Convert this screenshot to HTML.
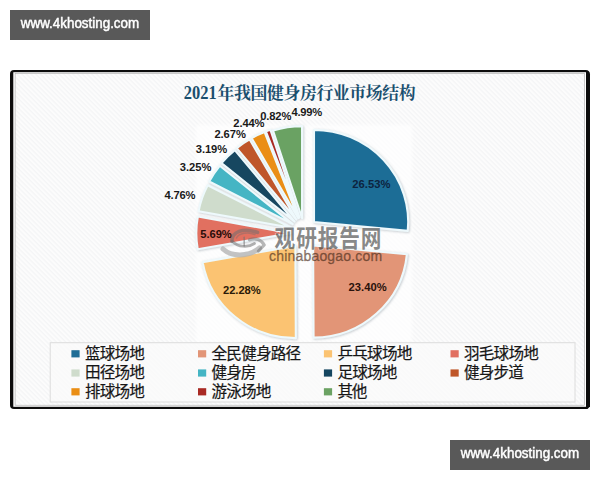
<!DOCTYPE html>
<html lang="zh"><head><meta charset="utf-8"><title>2021年我国健身房行业市场结构</title>
<style>
html,body{margin:0;padding:0;background:#fff}
body{width:600px;height:480px;position:relative;overflow:hidden;font-family:"Liberation Sans",sans-serif}
.tag{position:absolute;width:140px;height:30px;background:#595959;color:#fff;font-size:13.4px;line-height:28.4px;text-align:center;-webkit-text-stroke:0.45px #fff;white-space:nowrap}
.tag span{display:inline-block;transform:scaleY(1.06);transform-origin:50% 68%}
svg{position:absolute;left:0;top:0;font-family:"Liberation Sans",sans-serif}
</style></head><body>
<div class="tag" style="left:10px;top:10px"><span>www.4khosting.com</span></div>
<svg width="600" height="480" viewBox="0 0 600 480" role="img" aria-label="2021年我国健身房行业市场结构">
<defs>
<pattern id="hatch" width="3.3" height="3.3" patternUnits="userSpaceOnUse" patternTransform="rotate(45)"><rect width="3.3" height="3.3" fill="#fcfcfc"/><rect width="3.3" height="1.3" fill="#f4f5f6"/></pattern>
<filter id="soft" x="-5%" y="-5%" width="110%" height="110%"><feGaussianBlur stdDeviation="1.6"/></filter>
<filter id="sh" x="-10%" y="-10%" width="120%" height="120%"><feDropShadow dx="0.8" dy="0.8" stdDeviation="1.2" flood-color="#7a8a94" flood-opacity="0.45"/></filter>
</defs>
<path d="M14 70H585.5Q590 70 590 74.5V406.5L587.5 409H14Q10 409 10 405V74Q10 70 14 70Z" fill="#0c0c0c"/>
<rect x="13.3" y="72.2" width="572.7" height="334.6" fill="#fff"/>
<rect x="15.1" y="73.3" width="569.6" height="331.9" fill="url(#hatch)" stroke="#a9a9a9" stroke-width="0.6"/>
<rect x="196" y="125" width="216" height="217" fill="#fff" opacity="0.75" filter="url(#soft)"/>
<text transform="translate(183.7 99.0) scale(0.895 1)" font-family="'Liberation Serif',serif" font-weight="bold" font-size="18.4" fill="#1a4f6e">2021</text>
<text x="217.6" y="98.9" font-family="'Liberation Serif','Noto Serif CJK SC',serif" font-weight="bold" font-size="16.9" fill="#1a4f6e" textLength="198" lengthAdjust="spacing">年我国健身房行业市场结构</text>
<g stroke="#eef9fc" stroke-width="2.1" stroke-linejoin="round" filter="url(#sh)"><path d="M313.99 222.04L313.99 129.84A94.2 92.2 0 0 1 407.76 230.86Z" fill="#1f6d96"/><path d="M313.1 245.46L406.87 254.28A94.2 92.2 0 0 1 313.58 337.66Z" fill="#e29577"/><path d="M295.36 245.95L295.83 338.15A94.2 92.2 0 0 1 202.62 262.11Z" fill="#fbc372"/><path d="M290.5 233.16L197.76 249.32A94.2 92.2 0 0 1 197.84 216.54Z" fill="#e16f61"/><path d="M291.23 227.81L198.57 211.19A94.2 92.2 0 0 1 207.69 185.21Z" fill="#cfdccc"/><path d="M292.73 224.07L209.18 181.47A94.2 92.2 0 0 1 219.74 165.78Z" fill="#45b5c4"/><path d="M294.45 221.47L221.46 163.18A94.2 92.2 0 0 1 234.78 150.13Z" fill="#154660"/><path d="M296.35 219.52L236.68 148.18A94.2 92.2 0 0 1 249.69 139.43Z" fill="#bf5629"/><path d="M298.23 218.19L251.57 138.1A94.2 92.2 0 0 1 264.61 132.07Z" fill="#ea8e14"/><path d="M299.51 217.55L265.88 131.42A94.2 92.2 0 0 1 270.46 129.84Z" fill="#a92a24"/><path d="M302.08 218.28L273.03 130.57A94.2 92.2 0 0 1 302.08 126.08Z" fill="#6ba263"/></g>
<g>
<g fill="none" stroke="#6f6f6f" stroke-linecap="round" stroke-linejoin="round"><path d="M223 249C231 256.5 248 257.5 259.5 248" stroke="#b4b4b4" stroke-width="5" opacity="0.8"/><path d="M231.8 241.5C231.5 232 243 227.2 257.5 232.4" stroke-width="3.6" opacity="0.55"/><path d="M236.5 238C239 233 248 231.5 255 234.5" stroke-width="1.4" opacity="0.4"/><path d="M232.2 241.2C238 247.3 248 247.8 254.5 243.5" stroke-width="2.7" opacity="0.55"/><path d="M244.2 237.2V246" stroke-width="1.6" opacity="0.55"/><path d="M249.5 239.8C255 237.5 261.5 239.5 264.2 245L258.5 251" stroke-width="3.2" opacity="0.5"/></g>
<text transform="translate(274.6 246.7) scale(1 1.169)" font-family="'Liberation Sans','Noto Sans CJK SC',sans-serif" font-weight="bold" font-size="20.7" fill="#2e2e2e" fill-opacity="0.58" stroke="#fff" stroke-width="0.9" stroke-opacity="0.55" paint-order="stroke" textLength="106.9" lengthAdjust="spacing">观研报告网</text>
<text x="269.0" y="260.6" font-size="14" fill="#4a2c18" fill-opacity="0.6" stroke="#4a2c18" stroke-opacity="0.45" stroke-width="0.5" textLength="113.2" lengthAdjust="spacing">chinabaogao.com</text>
</g>
<text x="352.3" y="187.5" font-weight="bold" font-size="11.2" fill="#0d2440" textLength="38.25" lengthAdjust="spacing">26.53%</text>
<text x="348.55" y="291.2" font-weight="bold" font-size="11.2" fill="#2a120c" textLength="38.199999999999996" lengthAdjust="spacing">23.40%</text>
<text x="223.1" y="294.4" font-weight="bold" font-size="11.2" fill="#2a1a08" textLength="37.5" lengthAdjust="spacing">22.28%</text>
<text x="200.35" y="238.0" font-weight="bold" font-size="11.2" fill="#2a0d0a" textLength="31.4" lengthAdjust="spacing">5.69%</text>
<text x="164.45" y="199.0" font-weight="bold" font-size="11.2" fill="#1a1a1a" textLength="31.099999999999998" lengthAdjust="spacing">4.76%</text>
<text x="179.75" y="171.3" font-weight="bold" font-size="11.2" fill="#1a1a1a" textLength="31.7" lengthAdjust="spacing">3.25%</text>
<text x="195.85" y="152.8" font-weight="bold" font-size="11.2" fill="#1a1a1a" textLength="31.349999999999998" lengthAdjust="spacing">3.19%</text>
<text x="214.38" y="138.3" font-weight="bold" font-size="11.2" fill="#1a1a1a" textLength="31.5" lengthAdjust="spacing">2.67%</text>
<text x="233.3" y="127.3" font-weight="bold" font-size="11.2" fill="#1a1a1a" textLength="31.25" lengthAdjust="spacing">2.44%</text>
<text x="260.15" y="120.3" font-weight="bold" font-size="11.2" fill="#1a1a1a" textLength="31.2" lengthAdjust="spacing">0.82%</text>
<text x="291.55" y="115.5" font-weight="bold" font-size="11.2" fill="#1a1a1a" textLength="30.7" lengthAdjust="spacing">4.99%</text>
<rect x="50.2" y="342.7" width="524.8" height="59.3" fill="#fafafa" fill-opacity="0.8" stroke="#dcdcdc" stroke-width="1"/>
<g font-family="'Liberation Sans','Noto Sans CJK SC',sans-serif" font-size="15.6" fill="#161616" stroke="#161616" stroke-width="0.2">
<rect x="71.4" y="350.2" width="8.2" height="7.2" fill="#1f6d96" stroke="none"/>
<text x="85" y="358.7" textLength="59.8" lengthAdjust="spacing">篮球场地</text>
<rect x="198.0" y="350.2" width="8.2" height="7.2" fill="#e29577" stroke="none"/>
<text x="211.5" y="358.7" textLength="89.7" lengthAdjust="spacing">全民健身路径</text>
<rect x="323.9" y="350.2" width="8.2" height="7.2" fill="#fbc372" stroke="none"/>
<text x="337.5" y="358.7" textLength="74.8" lengthAdjust="spacing">乒乓球场地</text>
<rect x="450.5" y="350.2" width="8.2" height="7.2" fill="#e16f61" stroke="none"/>
<text x="464" y="358.7" textLength="74.8" lengthAdjust="spacing">羽毛球场地</text>
<rect x="71.4" y="369.4" width="8.2" height="7.2" fill="#cfdccc" stroke="none"/>
<text x="85" y="377.9" textLength="59.8" lengthAdjust="spacing">田径场地</text>
<rect x="198.0" y="369.4" width="8.2" height="7.2" fill="#45b5c4" stroke="none"/>
<text x="211.5" y="377.9" textLength="44.9" lengthAdjust="spacing">健身房</text>
<rect x="323.9" y="369.4" width="8.2" height="7.2" fill="#154660" stroke="none"/>
<text x="337.5" y="377.9" textLength="59.8" lengthAdjust="spacing">足球场地</text>
<rect x="450.5" y="369.4" width="8.2" height="7.2" fill="#bf5629" stroke="none"/>
<text x="464" y="377.9" textLength="59.8" lengthAdjust="spacing">健身步道</text>
<rect x="71.4" y="388.2" width="8.2" height="7.2" fill="#ea8e14" stroke="none"/>
<text x="85" y="396.7" textLength="59.8" lengthAdjust="spacing">排球场地</text>
<rect x="198.0" y="388.2" width="8.2" height="7.2" fill="#a92a24" stroke="none"/>
<text x="211.5" y="396.7" textLength="59.8" lengthAdjust="spacing">游泳场地</text>
<rect x="323.9" y="388.2" width="8.2" height="7.2" fill="#6ba263" stroke="none"/>
<text x="337.5" y="396.7" textLength="29.9" lengthAdjust="spacing">其他</text>
</g>
</svg>
<div class="tag" style="left:450px;top:440px"><span>www.4khosting.com</span></div>
</body></html>
